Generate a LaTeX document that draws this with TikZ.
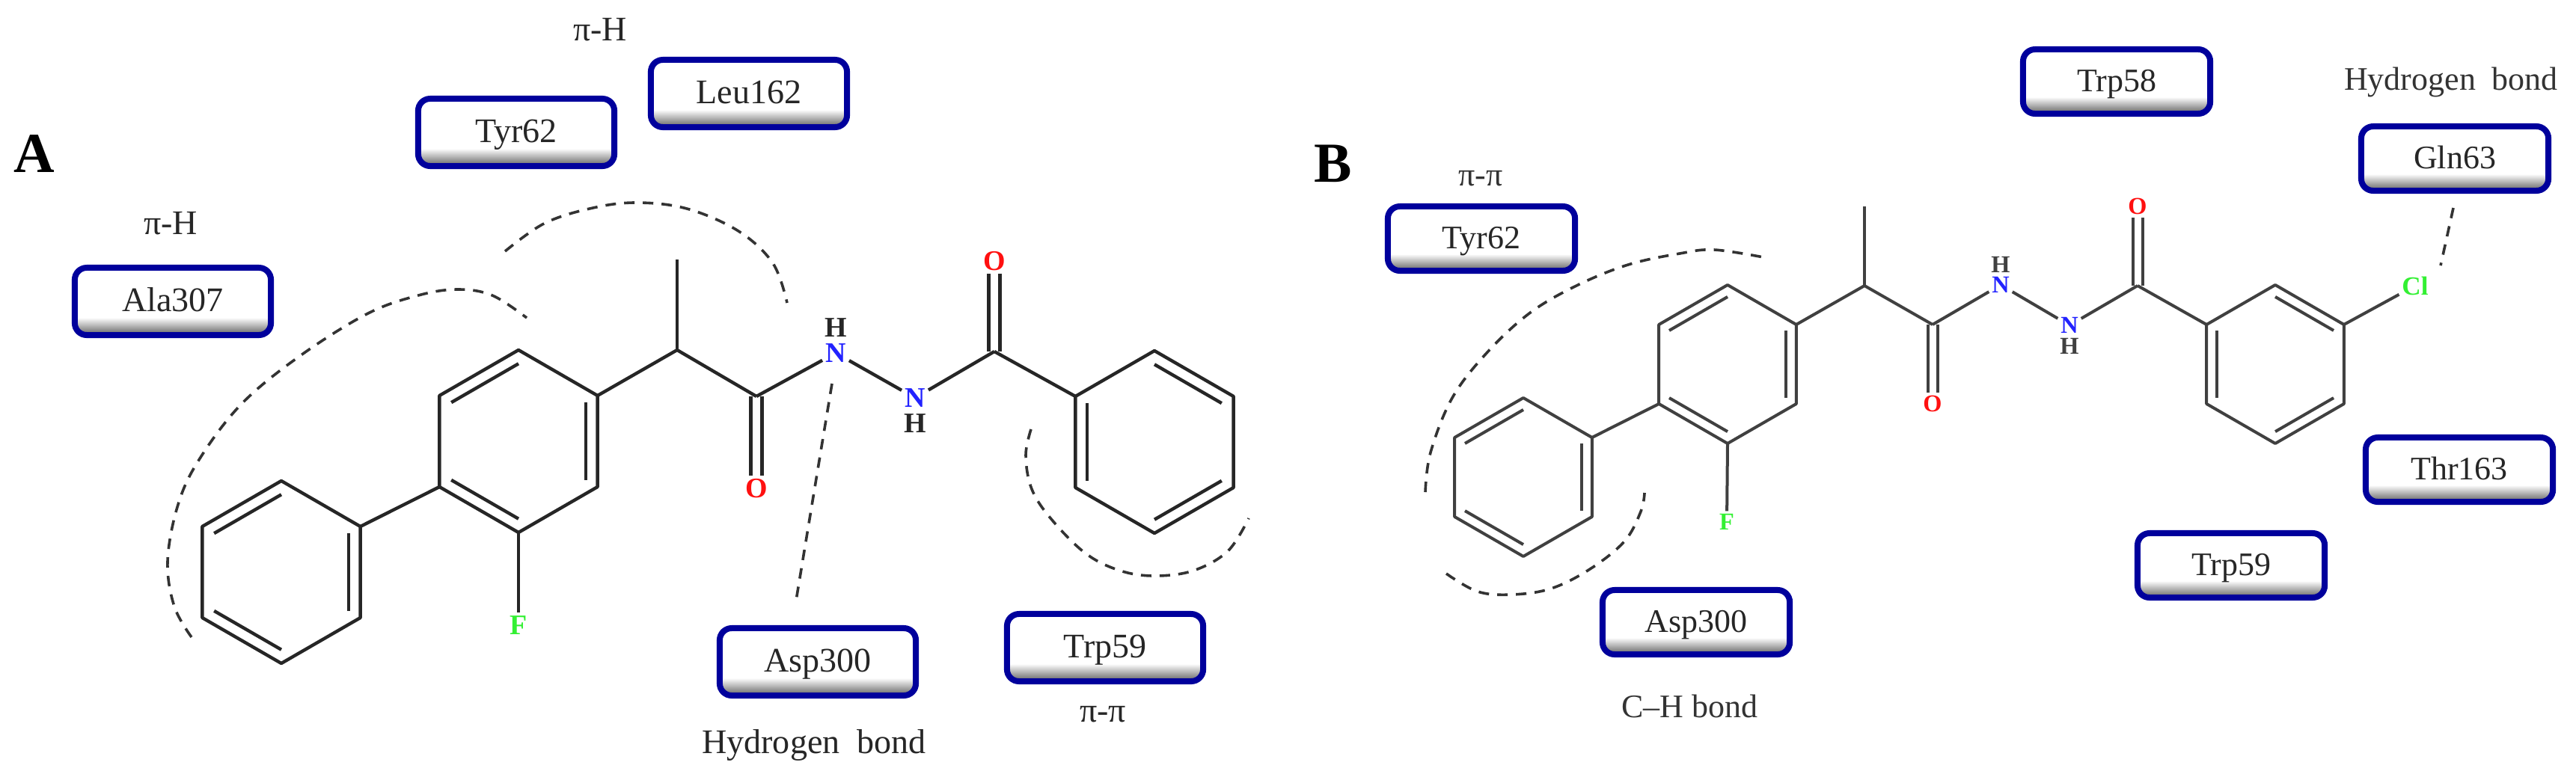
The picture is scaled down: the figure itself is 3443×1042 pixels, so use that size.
\documentclass[tikz,border=0pt]{standalone}
\usepackage{fontspec}
\setmainfont{Liberation Serif}
\usetikzlibrary{calc}
\definecolor{boxblue}{HTML}{00009C}
\definecolor{boxgrey}{HTML}{777777}
\definecolor{atomN}{HTML}{2222FF}
\definecolor{atomO}{HTML}{FF1010}
\definecolor{atomF}{HTML}{33F033}
\pgfdeclareverticalshading{residueshade}{100bp}{color(0bp)=(boxgrey); color(27bp)=(boxgrey); color(38bp)=(white); color(100bp)=(white)}
\tikzset{
  residue/.style={draw=boxblue,line width=.08cm,rounded corners=.16cm,shade,shading=residueshade,
    text=black!85,text height=.88em,text depth=.1em,inner sep=0pt},
  resA/.style={residue,minimum width=2.62cm,minimum height=.9cm,font=\fontsize{13.1}{15}\selectfont},
  resB/.style={residue,minimum width=2.5cm,minimum height=.86cm,font=\fontsize{12.5}{15}\selectfont},
  kindA/.style={text=black!85,inner sep=0pt,font=\fontsize{13.1}{15}\selectfont},
  kindB/.style={text=black!80,inner sep=0pt,font=\fontsize{12.5}{15}\selectfont},
  bondA/.style={line width=.044cm,black!85,line join=round},
  bondB/.style={line width=.04cm,black!75,line join=round},
  contact/.style={line width=.036cm,black!80,dash pattern=on .14cm off .11cm},
  atomA/.style={inner sep=.02cm,font=\fontsize{10.8}{12}\selectfont\bfseries},
  atomB/.style={inner sep=.02cm,font=\fontsize{9.2}{11}\selectfont\bfseries},
  panel/.style={inner sep=0pt,font=\fontsize{21.5}{24}\selectfont\bfseries}
}
% hexagon corners: #1 1 is the top one, then clockwise
\newcommand{\hexring}[4]{%
  \coordinate (#1c) at (#2,#3);
  \foreach \i/\ang in {1/-90,2/-30,3/30,4/90,5/150,6/210}
    \coordinate (#1\i) at ($(#1c)+(\ang:#4)$);
  \draw (#11) -- (#12) -- (#13) -- (#14) -- (#15) -- (#16) -- cycle;
}
\newcommand{\inner}[3]{\draw ($(#1#2)!.15!(#1c)$) -- ($(#1#3)!.15!(#1c)$);}
\begin{document}
\begin{tikzpicture}[x=.01cm,y=-.01cm]
\useasboundingbox (0,0) rectangle (3443,1042);
\node[panel] (panelA) at (46,206) {A};
\node[panel] (panelB) at (1782,219) {B};

% left ligand
\begin{scope}[bondA]
\hexring{pa}{376}{765}{122}
\hexring{fa}{693}{590}{122}
\hexring{ba}{1543}{591}{122}
\foreach \r in {pa,fa} {
  \inner{\r}{6}{1} \inner{\r}{2}{3} \inner{\r}{4}{5}
}
\inner{ba}{1}{2} \inner{ba}{3}{4} \inner{ba}{5}{6}
\coordinate (chA) at (905,468);
\coordinate (meA) at (905,347);
\coordinate (coA) at (1011,530);
\coordinate (cbA) at (1329,470);
\node[atomA,text=atomN] (n1A) at (1117,472) {N};
\node[atomA,text=atomN] (n2A) at (1223,532) {N};
\node[atomA] (h1A) at (1117,438) {H};
\node[atomA] (h2A) at (1223,566) {H};
\node[atomA,text=atomO] (o1A) at (1011,653) {O};
\node[atomA,text=atomO] (o2A) at (1329,349) {O};
\node[atomA,text=atomF] (fA) at (693,836) {F};
\draw (pa2) -- (fa5);
\draw (fa2) -- (chA) -- (coA);
\draw (chA) -- (meA);
\draw (coA) -- (n1A);
\draw (n1A) -- (n2A);
\draw (n2A) -- (cbA);
\draw (cbA) -- (ba6);
\draw (fa4) -- (fA);
\draw ([xshift=-.075cm]coA) -- ([xshift=-.075cm]o1A.north);
\draw ([xshift=.075cm]coA) -- ([xshift=.075cm]o1A.north);
\draw ([xshift=-.075cm]cbA) -- ([xshift=-.075cm]o2A.south);
\draw ([xshift=.075cm]cbA) -- ([xshift=.075cm]o2A.south);
\end{scope}

\node[resA] (alaA) at (231,403) {Ala307};
\node[resA] (tyrA) at (690,177) {Tyr62};
\node[resA] (leuA) at (1001,125) {Leu162};
\node[resA] (aspA) at (1093,885) {Asp300};
\node[resA] (trpA) at (1477,866) {Trp59};
\node[kindA] (kindleuA) at (802,40) {π-H};
\node[kindA] (kindalaA) at (228,299) {π-H};
\node[kindA] (kindaspA) at (1088,996) {Hydrogen\ \ bond};
\node[kindA] (kindtrpA) at (1474,955) {π-π};

\draw[contact] plot[smooth,tension=.6] coordinates
  {(256,852) (233,811) (224,751) (237,678) (264,618) (321,542) (398,478)
   (490,420) (559,395) (612,387) (658,395) (704,425)};
\draw[contact] plot[smooth,tension=.6] coordinates
  {(675,336) (727,299) (788,279) (849,271) (918,279) (987,309) (1033,352) (1052,405)};
\draw[contact] plot[smooth,tension=.6] coordinates
  {(1378,574) (1371,609) (1379,654) (1405,694) (1451,740) (1497,763) (1543,770)
   (1595,763) (1641,737) (1669,693)};
\coordinate (hbA) at (1112,513);
\coordinate (hcA) at (1064,803);
\draw[contact] (hbA) -- (hcA);

% right ligand
\begin{scope}[bondB]
\hexring{pb}{2036}{638}{106}
\hexring{fb}{2309}{487}{106}
\hexring{bb}{3041}{487}{106}
\foreach \r in {pb,fb} {
  \inner{\r}{6}{1} \inner{\r}{2}{3} \inner{\r}{4}{5}
}
\inner{bb}{1}{2} \inner{bb}{3}{4} \inner{bb}{5}{6}
\coordinate (chB) at (2492,382);
\coordinate (meB) at (2492,276);
\coordinate (coB) at (2583,434);
\coordinate (cbB) at (2857,382);
\node[atomB,text=atomN] (n1B) at (2674,381) {N};
\node[atomB,text=atomN] (n2B) at (2766,435) {N};
\node[atomB] (h1B) at (2674,354) {H};
\node[atomB] (h2B) at (2766,463) {H};
\node[atomB,text=atomO] (o1B) at (2583,540) {O};
\node[atomB,text=atomO] (o2B) at (2857,276) {O};
\node[atomB,text=atomF] (fB) at (2308,698) {F};
\node[atomB,text=atomF,font=\fontsize{10}{12}\selectfont\bfseries] (clB) at (3228,382) {Cl};
\draw (pb2) -- (fb5);
\draw (fb2) -- (chB) -- (coB);
\draw (chB) -- (meB);
\draw (coB) -- (n1B);
\draw (n1B) -- (n2B);
\draw (n2B) -- (cbB);
\draw (cbB) -- (bb6);
\draw (fb4) -- (fB);
\draw (bb2) -- (clB);
\draw ([xshift=-.065cm]coB) -- ([xshift=-.065cm]o1B.north);
\draw ([xshift=.065cm]coB) -- ([xshift=.065cm]o1B.north);
\draw ([xshift=-.065cm]cbB) -- ([xshift=-.065cm]o2B.south);
\draw ([xshift=.065cm]cbB) -- ([xshift=.065cm]o2B.south);
\end{scope}

\node[resB] (tyrB) at (1980,319) {Tyr62};
\node[resB] (aspB) at (2267,832) {Asp300};
\node[resB] (trp58B) at (2829,109) {Trp58};
\node[resB] (glnB) at (3281,212) {Gln63};
\node[resB] (thrB) at (3287,628) {Thr163};
\node[resB] (trp59B) at (2982,756) {Trp59};
\node[kindB] (kindtyrB) at (1979,239) {π-π};
\node[kindB] (kindaspB) at (2258,944) {C–H bond};
\node[kindB] (kindglnB) at (3276,110) {Hydrogen\ \ bond};

\draw[contact] plot[smooth,tension=.6] coordinates
  {(1905,658) (1912,605) (1941,532) (1987,472) (2044,419) (2107,382) (2176,354)
   (2245,339) (2291,334) (2357,344)};
\draw[contact] plot[smooth,tension=.6] coordinates
  {(1933,767) (1975,791) (2021,795) (2073,787) (2125,761) (2171,724) (2193,684) (2198,659)};
\coordinate (hbB) at (3279,278);
\coordinate (hcB) at (3262,355);
\draw[contact] (hbB) -- (hcB);
\end{tikzpicture}
\end{document}
